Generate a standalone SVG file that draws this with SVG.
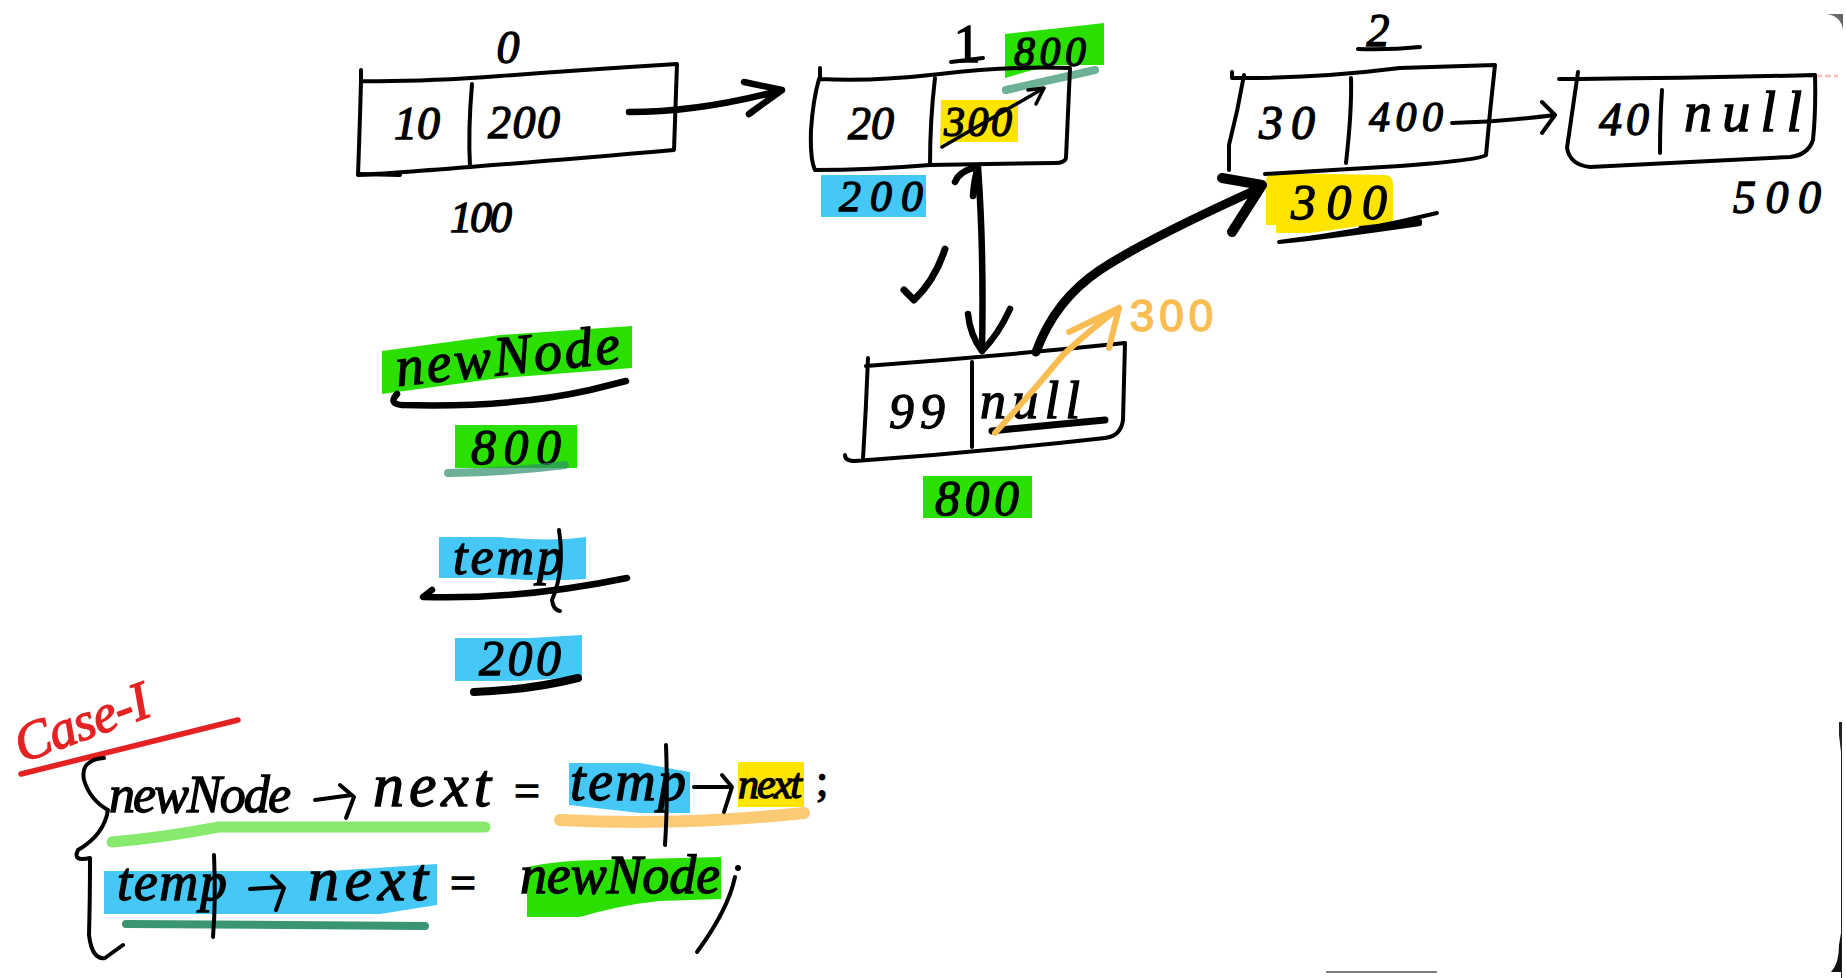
<svg xmlns="http://www.w3.org/2000/svg" width="1846" height="978" viewBox="0 0 1846 978">
<defs><style>
.ink{fill:none;stroke:#000;stroke-width:4;stroke-linecap:round;stroke-linejoin:round}
.th{stroke-width:6.5}
.hv{stroke-width:10}
.t{font-family:"Liberation Serif","DejaVu Serif",serif;font-style:italic;fill:#000;stroke:#000;stroke-width:1.3;text-anchor:middle}
.u{font-style:normal}
.g{fill:#2ae000}.b{fill:#45c8f5}.y{fill:#ffe400}
.teal{fill:none;stroke:#2e8f6a;stroke-width:8;stroke-linecap:round;opacity:.7}
.or{fill:none;stroke:#f9bd52;stroke-width:6;stroke-linecap:round;stroke-linejoin:round}
.red{fill:none;stroke:#e52222;stroke-width:5.5;stroke-linecap:round}
</style></defs>
<rect width="1846" height="978" fill="#fff"/>
<g id="edge-marks">
<path d="M1827 14Q1841 16 1843 30V14Z" fill="#666"/>
<path d="M1839 722H1842V978H1841V752L1839 735Z" fill="#222"/>
<path d="M1841 933V972H1831Q1839 964 1839 945Z" fill="#111"/>
<path d="M1326 972H1437" stroke="#555" stroke-width="1.5"/>
<path d="M1780 76H1838" stroke="#e88" stroke-width="3" stroke-dasharray="6 3" opacity=".5"/>
</g>
<g id="node-0">
<path class="ink" d="M361 70V81Q420 82 500 76T677 64L674 150Q560 160 470 167T358 175Q360 120 361 81"/>
<path class="ink" d="M358 174L400 175"/>
<path class="ink" d="M472 84Q468 130 470 167"/>
<text class="t" x="508" y="63" font-size="46">0</text>
<text class="t" x="417" y="139" font-size="46">10</text>
<text class="t" x="524" y="138" font-size="46" textLength="72">200</text>
<text class="t" x="481" y="232" font-size="44" textLength="62">100</text>
</g>
<g id="node-1">
<path class="g" d="M1005 34L1060 28L1104 23V65H1050L1005 78Z"/>
<path class="y" d="M941 100H1018V142H945L940 146Z"/>
<path class="b" d="M821 175H926V217H821Z"/>
<path class="teal" d="M1006 90Q1050 80 1095 70"/>
<path class="ink" d="M820 68V79Q870 82 940 74T1070 68L1066 158Q1065 163 1055 163L930 165Q870 170 815 170Q810 160 811 130Q813 100 819 79"/>
<path class="ink" d="M935 78Q930 120 930 165"/>
<text class="t u" x="967" y="62" font-size="54">1</text>
<path class="ink" d="M951 62L983 58"/>
<text class="t" x="1050" y="66" font-size="42" textLength="72">800</text>
<text class="t" x="871" y="139" font-size="46">20</text>
<text class="t" x="978" y="136" font-size="42" textLength="68">300</text>
<path class="ink" style="stroke-width:3.5" d="M942 147L1044 88M1028 90L1044 88L1036 104"/>
<text class="t" x="881" y="211" font-size="44" textLength="84">200</text>
</g>
<g id="node-2">
<path class="y" d="M1266 180Q1266 173 1275 173L1385 175Q1393 175 1393 185V222L1360 226L1310 233H1276V225H1266Z"/>
<path class="ink" d="M1232 72V78H1244Q1320 78 1400 68L1495 65Q1490 110 1486 155Q1480 160 1400 166L1265 174"/>
<path class="ink" d="M1244 75Q1238 110 1229 145V170"/>
<path class="ink" d="M1351 78Q1352 110 1346 163"/>
<text class="t" x="1378" y="46" font-size="46">2</text>
<path class="ink" d="M1358 49Q1390 50 1420 47"/>
<text class="t" x="1287" y="139" font-size="48" textLength="56">30</text>
<text class="t" x="1406" y="131" font-size="42" textLength="74">400</text>
<text class="t" x="1339" y="219" font-size="50" textLength="96">300</text>
<path class="ink" d="M1437 213Q1360 232 1279 242M1279 242Q1340 236 1420 224V221L1360 228"/>
</g>
<g id="node-3">
<path class="ink" d="M1559 79H1580Q1700 78 1815 75Q1816 110 1813 140Q1808 155 1790 157L1590 167Q1570 165 1567 148L1578 72"/>
<path class="ink" d="M1662 90Q1660 120 1660 153"/>
<text class="t" x="1624" y="135" font-size="46" textLength="50">40</text>
<text class="t" x="1743" y="131" font-size="56" textLength="118">null</text>
<text class="t" x="1777" y="213" font-size="46" textLength="88">500</text>
</g>
<g id="node-new">
<path class="g" d="M923 476H1032V518H923Z"/>
<path class="ink" d="M868 358Q866 410 863 459M845 455Q845 461 855 461Q980 452 1105 438Q1121 436 1123 420L1125 343Q1000 356 866 366"/>
<path class="ink" d="M972 362V447"/>
<text class="t" x="917" y="428" font-size="50" textLength="56">99</text>
<text class="t" x="1030" y="418" font-size="52" textLength="100">null</text>
<path class="ink hv" style="stroke-width:7" d="M992 431Q1050 425 1105 420"/>
<text class="t" x="977" y="515" font-size="50" textLength="84">800</text>
</g>
<g id="connectors">
<path class="ink th" d="M629 112Q700 112 782 90M744 82L782 90L749 114"/>
<path class="ink" d="M1452 123Q1500 122 1555 115M1542 102L1555 115L1542 133"/>
<path class="ink th" d="M978 167Q984 250 982 351M955 182Q960 170 978 167Q974 180 973 196M968 314Q970 335 982 351Q998 335 1010 309"/>
<path class="ink" style="stroke-width:9" d="M1036 352Q1055 300 1100 270T1260 188"/>
<path class="ink hv" d="M1222 178L1262 185L1232 232"/>
<path class="or" d="M995 433Q1030 395 1063 355Q1090 330 1119 308M1069 332L1119 308L1109 348"/>
</g>
<g id="label-300-orange"><text x="1174" y="331" font-family="Liberation Sans,sans-serif" font-size="44" fill="#f9bd52" stroke="#f9bd52" stroke-width="1.5" text-anchor="middle" letter-spacing="5">300</text></g>
<g id="check"><path class="ink hv" style="stroke-width:7" d="M945 249Q935 280 914 300L904 290"/></g>
<g id="newNode-label">
<path class="g" d="M382 351L500 335L632 326V368L500 378L382 394Z"/>
<text class="t" x="508" y="374" font-size="56" textLength="225" transform="rotate(-6 511 360)">newNode</text>
<path class="ink th" d="M397 394Q388 404 402 405Q510 408 590 390L626 381"/>
<rect class="g" x="455" y="425" width="122" height="43"/>
<text class="t" x="516" y="464" font-size="50" textLength="90">800</text>
<path class="teal" d="M448 473Q510 472 565 465"/>
</g>
<g id="temp-label">
<path class="b" d="M439 537H500Q550 542 586 537V579Q540 582 500 578H439Z"/>
<text class="t" x="508" y="574" font-size="52" textLength="110">temp</text>
<path class="ink th" d="M432 590L423 597Q520 600 627 578"/>
<path class="ink" d="M559 530Q565 570 552 600Q553 610 560 611"/>
<path class="b" d="M455 638H530L582 635V677L520 681H455Z"/>
<text class="t" x="520" y="675" font-size="50" textLength="82">200</text>
<path class="ink hv" style="stroke-width:8" d="M474 692Q530 690 578 678"/>
</g>
<g id="case-label">
<text x="82" y="740" font-family="Liberation Serif,serif" font-style="italic" font-size="54" fill="#e52222" stroke="#e52222" stroke-width="1.3" text-anchor="middle" textLength="140" transform="rotate(-20 82 723)">Case-I</text>
<path class="red" d="M21 774L238 720"/>
</g>
<g id="code">
<path class="ink" d="M104 758Q80 760 84 780Q90 800 108 810Q104 835 78 850Q72 862 90 858Q90 900 89 935Q92 960 105 958L123 945"/>
<path d="M112 842Q160 838 219 827L485 827" fill="none" stroke="#5fe23e" stroke-width="11" stroke-linecap="round" opacity=".75"/>
<text class="t" x="200" y="812" font-size="52" textLength="182">newNode</text>
<path class="ink" d="M315 800L352 795M340 785L354 797L346 818"/>
<text class="t" x="432" y="806" font-size="62" textLength="118">next</text>
<text class="t u" x="527" y="806" font-size="46">=</text>
<path class="b" d="M569 763H640L690 772V813H640L569 805Z"/>
<rect class="y" x="738" y="762" width="66" height="45"/>
<path d="M560 820Q680 826 804 813" fill="none" stroke="#f9bd52" stroke-width="12" stroke-linecap="round" opacity=".8"/>
<text class="t" x="628" y="800" font-size="56" textLength="116">temp</text>
<path class="ink" d="M666 745Q668 800 665 845"/>
<path class="ink" d="M694 787H730M722 775L732 787L724 812"/>
<text class="t" x="770" y="798" font-size="42" textLength="64">next</text>
<text class="t u" x="822" y="795" font-size="44">;</text>
<path class="b" d="M104 871H330L437 864V905L380 914H104Z"/>
<path class="teal" style="stroke-width:8;opacity:.95" d="M126 924Q280 925 425 926"/>
<text class="t" x="172" y="900" font-size="54" textLength="110">temp</text>
<path class="ink" d="M214 855Q216 900 213 937"/>
<path class="ink" d="M250 889L282 887M272 876L284 888L276 910"/>
<text class="t" x="368" y="900" font-size="62" textLength="120">next</text>
<text class="t u" x="463" y="898" font-size="46">=</text>
<path class="g" d="M527 867Q560 860 600 860L721 857V899L660 901Q620 905 580 917H527Z"/>
<text class="t" x="620" y="893" font-size="54" textLength="200">newNode</text>
<circle cx="738" cy="868" r="3"/>
<path class="ink" d="M735 877Q728 910 697 952"/>
</g>
</svg>
